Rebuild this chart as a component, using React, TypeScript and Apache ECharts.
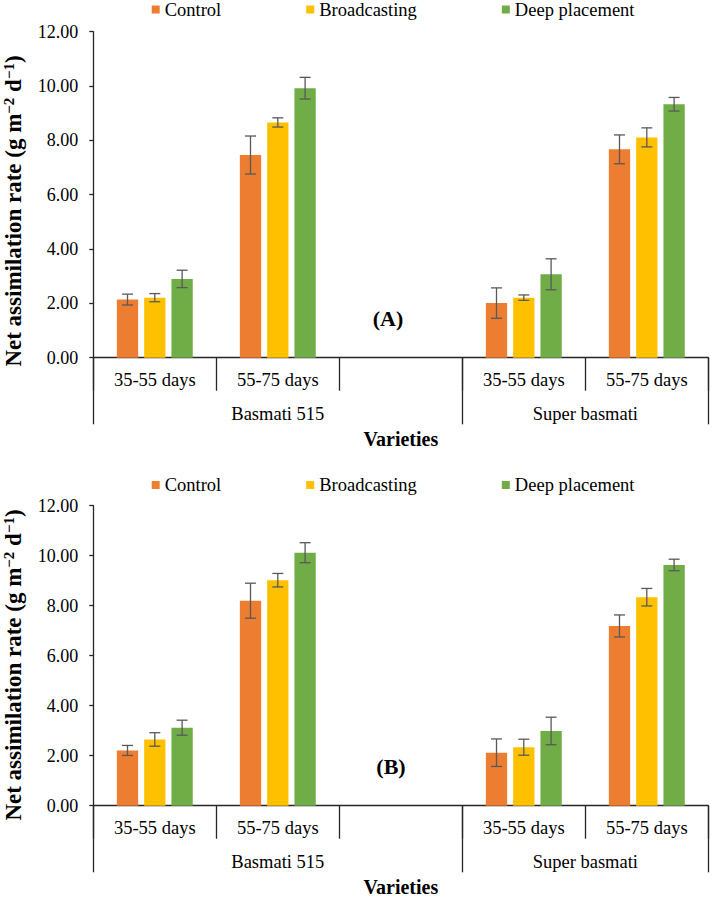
import React, { useEffect, useRef } from 'react';
import * as echarts from 'echarts';

// ---------- data ----------
const categories = ['35-55 days', '55-75 days', '', '35-55 days', '55-75 days'];
const groups = ['Basmati 515', 'Super basmati'];
const groupSizes = [3, 2];
const seriesNames = ['Control', 'Broadcasting', 'Deep placement'];
const panelLabels = ['(A)', '(B)'];
const yMin = 0;
const yMax = 12;
const yInterval = 2;

// Panel A
const controlA = [2.14, 7.46, null, 2.01, 7.67];
const broadcastA = [2.21, 8.66, null, 2.21, 8.11];
const deepA = [2.9, 9.92, null, 3.07, 9.33];
const controlErrA = [0.2, 0.7, null, 0.56, 0.53];
const broadcastErrA = [0.15, 0.17, null, 0.1, 0.35];
const deepErrA = [0.32, 0.4, null, 0.57, 0.25];

// Panel B
const controlB = [2.21, 8.2, null, 2.12, 7.19];
const broadcastB = [2.65, 9.02, null, 2.34, 8.34];
const deepB = [3.12, 10.12, null, 2.99, 9.63];
const controlErrB = [0.2, 0.7, null, 0.55, 0.44];
const broadcastErrB = [0.27, 0.27, null, 0.32, 0.35];
const deepErrB = [0.3, 0.4, null, 0.55, 0.23];

const panelValues = [
  [controlA, broadcastA, deepA],
  [controlB, broadcastB, deepB],
];
const panelErrors = [
  [controlErrA, broadcastErrA, deepErrA],
  [controlErrB, broadcastErrB, deepErrB],
];

// ---------- styles ----------
const colors = ['#ED7D31', '#FFC000', '#70AD47'];
const FONT = "'Liberation Serif', 'Times New Roman', serif";
const axisColor = '#262626';
const errColor = '#595959';
const BAR_W = 21.3;
const BAR_GAP_PX = 6;

const layout = [
  { top: 31.7, height: 326, legendTop: 0, titleY: 211, label: [388, 318] },
  { top: 505.7, height: 300, legendTop: 475.5, titleY: 665, label: [391, 766] },
];

export default function App() {
  const ref = useRef<HTMLDivElement>(null);

  useEffect(() => {
    document.body.style.margin = '0';
    const chart = echarts.init(ref.current!, null, { renderer: 'svg' });

    // group boundaries and centres derived from group sizes
    const bounds: number[] = [0];
    groupSizes.forEach((s) => bounds.push(bounds[bounds.length - 1] + s));
    const centers = groupSizes.map((s, i) => bounds[i] + s / 2);

    const grids: any[] = [];
    const xAxes: any[] = [];
    const yAxes: any[] = [];
    const series: any[] = [];
    const legends: any[] = [];
    const graphics: any[] = [];

    layout.forEach((L, p) => {
      grids.push({
        left: 93.3,
        right: 3.7,
        top: L.top,
        height: L.height,
        containLabel: false,
        outerBoundsMode: 'none',
      });
      const catIdx = xAxes.length;
      xAxes.push({
        type: 'category',
        gridIndex: p,
        data: categories,
        position: 'bottom',
        axisLine: { show: true, lineStyle: { color: axisColor, width: 1.3 } },
        axisTick: {
          show: true,
          interval: 0,
          alignWithLabel: false,
          length: 33,
          lineStyle: { color: axisColor, width: 1.3 },
        },
        axisLabel: {
          interval: 0,
          margin: 13,
          fontSize: 18.5,
          fontFamily: FONT,
          color: '#000',
        },
        splitLine: { show: false },
      });
      xAxes.push({
        type: 'value',
        gridIndex: p,
        position: 'bottom',
        min: 0,
        max: categories.length,
        axisLine: { show: false },
        splitLine: { show: false },
        axisTick: {
          show: true,
          customValues: bounds,
          length: 66.6,
          lineStyle: { color: axisColor, width: 1.3 },
        },
        axisLabel: {
          show: true,
          customValues: centers,
          formatter: (v: number) => {
            const i = centers.findIndex((c) => Math.abs(c - v) < 1e-6);
            return i >= 0 ? groups[i] : '';
          },
          margin: 47,
          fontSize: 18.5,
          fontFamily: FONT,
          color: '#000',
        },
        name: 'Varieties',
        nameLocation: 'middle',
        nameGap: 71,
        nameTextStyle: {
          fontSize: 20,
          fontWeight: 'bold',
          fontFamily: FONT,
          color: '#000',
        },
      });
      yAxes.push({
        type: 'value',
        gridIndex: p,
        min: yMin,
        max: yMax,
        interval: yInterval,
        axisLine: { show: true, lineStyle: { color: axisColor, width: 1.3 } },
        axisTick: { show: true, length: 4, lineStyle: { color: axisColor, width: 1.3 } },
        axisLabel: {
          formatter: (v: number) => v.toFixed(2),
          margin: 15,
          fontSize: 18,
          fontFamily: FONT,
          color: '#000',
        },
        splitLine: { show: false },
      });

      legends.push({
        top: L.legendTop,
        left: 151.7,
        padding: 0,
        itemGap: 85,
        itemWidth: 8,
        itemHeight: 8,
        icon: 'rect',
        data: seriesNames,
        selectedMode: false,
        textStyle: { fontSize: 18.5, fontFamily: FONT, color: '#000' },
      });

      seriesNames.forEach((name, i) => {
        series.push({
          type: 'bar',
          name,
          xAxisIndex: catIdx,
          yAxisIndex: p,
          data: panelValues[p][i],
          barWidth: BAR_W,
          barGap: `${(BAR_GAP_PX / BAR_W) * 100}%`,
          itemStyle: { color: colors[i] },
          z: 2,
        });
      });

      seriesNames.forEach((name, i) => {
        const offset = (i - 1) * (BAR_W + BAR_GAP_PX);
        const vals = panelValues[p][i];
        const errs = panelErrors[p][i];
        const data: any[] = [];
        vals.forEach((v, k) => {
          if (v != null && errs[k] != null) data.push([k, v, errs[k]]);
        });
        series.push({
          type: 'custom',
          name: `${name} error`,
          xAxisIndex: catIdx,
          yAxisIndex: p,
          z: 5,
          encode: { x: 0, y: 1 },
          data,
          renderItem: (params: any, api: any) => {
            const cat = api.value(0);
            const v = api.value(1);
            const e = api.value(2);
            const top = api.coord([cat, v + e]);
            const bot = api.coord([cat, v - e]);
            const x = top[0] + offset;
            const cap = 5.5;
            const style = { stroke: errColor, lineWidth: 1.3 };
            return {
              type: 'group',
              children: [
                { type: 'line', shape: { x1: x, y1: top[1], x2: x, y2: bot[1] }, style },
                { type: 'line', shape: { x1: x - cap, y1: top[1], x2: x + cap, y2: top[1] }, style },
                { type: 'line', shape: { x1: x - cap, y1: bot[1], x2: x + cap, y2: bot[1] }, style },
              ],
            };
          },
        });
      });

      graphics.push({
        type: 'text',
        x: 13,
        y: L.titleY,
        rotation: Math.PI / 2,
        style: {
          text: 'Net assimilation rate (g m{sup|−2} d{sup|−1})',
          fontSize: 23,
          fontWeight: 'bold',
          fontFamily: FONT,
          fill: '#000',
          align: 'center',
          verticalAlign: 'middle',
          rich: {
            sup: {
              fontSize: 15,
              fontWeight: 'bold',
              fontFamily: FONT,
              fill: '#000',
              verticalAlign: 'top',
              lineHeight: 15,
            },
          },
        },
      });
      graphics.push({
        type: 'text',
        x: L.label[0],
        y: L.label[1],
        style: {
          text: panelLabels[p],
          fontSize: 22,
          fontWeight: 'bold',
          fontFamily: FONT,
          fill: '#000',
          align: 'center',
          verticalAlign: 'middle',
        },
      });
    });

    chart.setOption({
      animation: false,
      backgroundColor: '#fff',
      grid: grids,
      xAxis: xAxes,
      yAxis: yAxes,
      legend: legends,
      series,
      graphic: graphics,
    });

    return () => chart.dispose();
  }, []);

  return <div ref={ref} style={{ width: 712, height: 898 }} />;
}
